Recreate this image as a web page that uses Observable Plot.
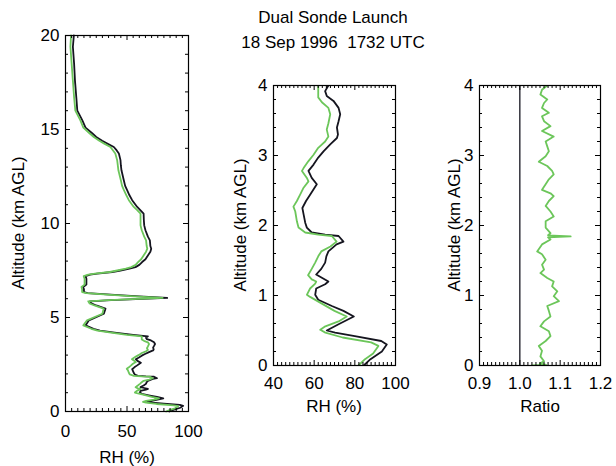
<!DOCTYPE html>
<html><head><meta charset="utf-8">
<script src="https://cdn.jsdelivr.net/npm/d3@7"></script>
<script src="https://cdn.jsdelivr.net/npm/@observablehq/plot@0.6"></script>
<style>
body{margin:0;background:#fff;}
#wrap{position:relative;width:616px;height:466px;font-family:"Liberation Sans",Arial,sans-serif;color:#000;overflow:hidden;}
.p{position:absolute;top:0;}
.t{position:absolute;white-space:nowrap;font-size:17px;transform:translate(-50%,-50%);}
.r{transform:translate(-50%,-50%) rotate(-90deg);}
</style></head><body><div id="wrap"></div>
<script>
// ---- Sonde 1 (black) ----
const altBlack = [0,0.09,0.2,0.3,0.35,0.42,0.47,0.5,0.59,0.7,0.78,0.85,0.94,1.01,1.1,1.16,1.2,1.25,1.3,1.38,1.47,1.56,1.63,1.73,1.77,1.85,1.87,1.9,1.97,2.04,2.16,2.25,2.35,2.44,2.59,2.68,2.78,2.87,2.97,3.06,3.16,3.25,3.3,3.4,3.49,3.59,3.68,3.78,3.85,3.92,4.0,
  4.08,4.2,4.3,4.4,4.58,4.85,5.2,5.47,5.64,5.75,5.86,5.92,6.04,6.12,6.2,6.3,6.35,6.5,6.62,6.75,6.89,7.06,7.2,7.28,7.33,7.42,7.5,7.6,7.68,7.8,7.95,8.1,8.3,8.5,8.66,8.8,9.1,9.3,9.64,9.9,10.17,10.53,10.7,10.88,11.24,11.5,11.77,12.0,12.3,12.83,13.1,13.37,13.72,13.9,14.07,14.25,14.4,14.6,14.8,15.1,15.5,16.0,16.7,17.6,18.5,19.4,20];
const rhBlack = [84.4,87.7,93.3,95.7,93,80,70.3,66.2,72,79.5,74.4,68.7,62,60.5,61,65.4,67,64,61,63.5,65.4,66,67,71,74.4,72,65.4,58.8,56.4,55.6,54.8,54.2,56,58,61.3,58.8,57.2,59.7,62,64.6,67.9,71.2,71.7,71.2,72,72.8,72,69.5,66.2,65.4,67,
  55,40,28,22.8,16.3,19,31.2,32.5,25,21,20,37,82.7,60,40,18,15,15,14.4,17,17,17,16.3,20,25.7,38,44.7,52,56.9,60,62.3,65,67,69,69.7,69,68.6,67,65,64,63.7,63.5,61,58.3,54.2,52,50.1,48.5,47.4,45.5,45,44.7,43.4,41.5,39.3,34,29.8,25,21.7,16.3,13.6,9.6,8.8,7.7,7,6,6.8];
// ---- Sonde 2 (green) ----
const altGreen = [0,0.09,0.17,0.28,0.33,0.4,0.47,0.51,0.56,0.63,0.7,0.78,0.88,0.98,1.01,1.1,1.17,1.2,1.23,1.29,1.38,1.47,1.56,1.63,1.7,1.77,1.85,1.87,1.9,1.97,2.06,2.2,2.27,2.35,2.44,2.54,2.63,2.68,2.78,2.82,2.92,3.01,3.11,3.2,3.27,3.37,3.46,3.59,3.68,3.76,3.83,3.92,4.0,
  4.08,4.2,4.3,4.4,4.58,4.85,5.2,5.47,5.64,5.75,5.86,5.92,6.04,6.12,6.2,6.3,6.35,6.5,6.62,6.75,6.89,7.06,7.2,7.28,7.33,7.42,7.5,7.6,7.68,7.8,7.95,8.1,8.3,8.5,8.66,8.8,9.1,9.3,9.64,9.9,10.17,10.53,10.7,10.88,11.24,11.5,11.77,12.0,12.3,12.83,13.1,13.37,13.72,13.9,14.07,14.25,14.4,14.6,14.8,15.1,15.5,16.0,16.7,17.6,18.5,19.4,20];
const rhGreen = [81.8,85,89,91.6,88,74,65.5,63,65.5,72,76,70,64,58,56.4,58,60.5,61,58.8,57,58.8,60.5,62,63.5,68,71,68.7,62,55.6,52.3,51.5,50.7,49.8,51.5,53.1,54.8,57.2,56.4,54,54.8,57.2,59.7,62,65.4,67,66.2,67,67.9,67,63.8,62,62,62,
  50,37,26,21,14.5,17.5,30,31,23.5,19.5,18.5,35,79,56,37,17,13.5,13.5,13,15.5,15.5,15.5,14.8,18.5,24,36,42,49,53.5,57,59,61.5,63.5,65.5,66.5,66,65.5,64,62,61,61,61,58.5,55.5,51.5,49.5,47.5,46,45,43,42.5,42,40.5,38.5,36.5,31.5,27.5,23,19.5,14.5,12,8,7,6,5,4,4.5];
// ---- Ratio ----
const ratioAlt = [0,0.01,0.03,0.06,0.13,0.21,0.28,0.35,0.42,0.49,0.56,0.63,0.70,0.78,0.85,0.92,0.99,1.06,1.13,1.20,1.25,1.32,1.37,1.44,1.51,1.59,1.63,1.73,1.80,1.83,1.845,1.86,1.89,1.97,2.06,2.13,2.20,2.28,2.35,2.42,2.46,2.51,2.59,2.66,2.73,2.78,2.85,2.91,2.99,3.06,3.13,3.20,3.27,3.35,3.42,3.49,3.56,3.61,3.68,3.75,3.80,3.87,3.94,4.0];
const ratioVal = [1.03,1.065,1.05,1.060,1.051,1.055,1.047,1.064,1.076,1.072,1.051,1.060,1.076,1.072,1.068,1.097,1.084,1.093,1.080,1.084,1.068,1.051,1.060,1.055,1.064,1.055,1.043,1.055,1.076,1.07,1.126,1.07,1.076,1.064,1.064,1.084,1.076,1.064,1.072,1.084,1.076,1.055,1.064,1.072,1.084,1.080,1.068,1.047,1.064,1.072,1.068,1.064,1.084,1.055,1.076,1.060,1.055,1.072,1.055,1.060,1.068,1.051,1.055,1.068];
// ---- tick labels ----
const p1XTicks = [0,50,100], p1YTicks = [0,5,10,15,20];
const p2XTicks = [40,60,80,100], p2YTicks = [0,1,2,3,4];
const p3XTicks = [0.9,1.0,1.1,1.2], p3YTicks = [0,1,2,3,4];
const refLine = [1.0];

const BLACK = "#15151f", GREEN = "#6cc65a";
const black = altBlack.map((a,i)=>({alt:a, rh:rhBlack[i]}));
const green = altGreen.map((a,i)=>({alt:a, rh:rhGreen[i]}));
const ratio = ratioAlt.map((a,i)=>({alt:a, r:ratioVal[i]}));

function frameTicks(xMaj, xMin, yMaj, yMin, fw, fh){
  const L=5, l=3, s={stroke:"#000", strokeWidth:1};
  return [
    Plot.ruleX(xMaj,{...s, insetTop: fh-L}), Plot.ruleX(xMaj,{...s, insetBottom: fh-L}),
    Plot.ruleX(xMin,{...s, insetTop: fh-l}), Plot.ruleX(xMin,{...s, insetBottom: fh-l}),
    Plot.ruleY(yMaj,{...s, insetRight: fw-L}), Plot.ruleY(yMaj,{...s, insetLeft: fw-L}),
    Plot.ruleY(yMin,{...s, insetRight: fw-l}), Plot.ruleY(yMin,{...s, insetLeft: fw-l})
  ];
}
function minor(a,b,step,maj){
  return d3.range(a,b+step/2,step).map(v=>+v.toFixed(4)).filter(v=>!maj.some(m=>Math.abs(m-v)<1e-6));
}
function panel({left,width,height,mL,mR,mT,mB,xDom,yDom,xT,yT,xMinor,yMinor,xFmt,xPad,marks}){
  const fw = width-mL-mR, fh = height-mT-mB;
  const svg = Plot.plot({
    width,height,marginLeft:mL,marginRight:mR,marginTop:mT,marginBottom:mB,
    style:{fontFamily:'"Liberation Sans",Arial,sans-serif',fontSize:"17px",color:"#000",background:"transparent",overflow:"visible"},
    x:{domain:xDom}, y:{domain:yDom},
    marks:[
      ...marks,
      ...frameTicks(xT,xMinor,yT,yMinor,fw,fh),
      Plot.frame({stroke:"#000",strokeWidth:1.2}),
      Plot.axisX(xT,{tickSize:0,tickPadding:xPad,label:null,fontSize:17,tickFormat:xFmt}),
      Plot.axisY(yT,{tickSize:0,tickPadding:6,label:null,fontSize:17,tickFormat:d3.format("d")})
    ]
  });
  svg.classList.add("p");
  svg.style.left = left+"px";
  document.getElementById("wrap").appendChild(svg);
}
const lw = 1.8;
panel({left:0,width:200,height:466,mL:65,mR:12,mT:35,mB:55,xDom:[0,100],yDom:[0,20],xPad:13,
  xT:p1XTicks,yT:p1YTicks,xMinor:minor(0,100,5,p1XTicks),yMinor:minor(0,20,1,p1YTicks),xFmt:d3.format("d"),
  marks:[
    Plot.line(black,{x:"rh",y:"alt",stroke:BLACK,strokeWidth:lw}),
    Plot.line(green,{x:"rh",y:"alt",stroke:GREEN,strokeWidth:lw})
  ]});
panel({left:210,width:200,height:466,mL:63,mR:15,mT:85,mB:101,xDom:[40,100],yDom:[0,4],xPad:11,
  xT:p2XTicks,yT:p2YTicks,xMinor:minor(40,100,2,p2XTicks),yMinor:minor(0,4,0.2,p2YTicks),xFmt:d3.format("d"),
  marks:[
    Plot.line(black.filter(d=>d.alt<=4),{x:"rh",y:"alt",stroke:BLACK,strokeWidth:lw,clip:true}),
    Plot.line(green.filter(d=>d.alt<=4),{x:"rh",y:"alt",stroke:GREEN,strokeWidth:lw,clip:true})
  ]});
panel({left:420,width:196,height:466,mL:59,mR:16,mT:85,mB:101,xDom:[0.9,1.2],yDom:[0,4],xPad:11,
  xT:p3XTicks,yT:p3YTicks,xMinor:minor(0.9,1.2,0.01,p3XTicks),yMinor:minor(0,4,0.2,p3YTicks),xFmt:d3.format(".1f"),
  marks:[
    Plot.ruleX(refLine,{stroke:BLACK,strokeWidth:1.3}),
    Plot.line(ratio,{x:"r",y:"alt",stroke:GREEN,strokeWidth:lw,clip:true})
  ]});

const texts = [
  {s:"Dual Sonde Launch", x:333, y:18},
  {s:"18 Sep 1996  1732 UTC", x:333, y:43},
  {s:"RH (%)", x:127, y:458},
  {s:"RH (%)", x:334, y:407},
  {s:"Ratio", x:540, y:407},
  {s:"Altitude (km AGL)", x:19, y:223, r:true},
  {s:"Altitude (km AGL)", x:241, y:225, r:true},
  {s:"Altitude (km AGL)", x:455, y:225, r:true}
];
for (const t of texts){
  const d = document.createElement("div");
  d.className = "t" + (t.r ? " r" : "");
  d.textContent = t.s;
  d.style.left = t.x+"px"; d.style.top = t.y+"px";
  d.style.whiteSpace = "pre";
  document.getElementById("wrap").appendChild(d);
}
</script></body></html>
